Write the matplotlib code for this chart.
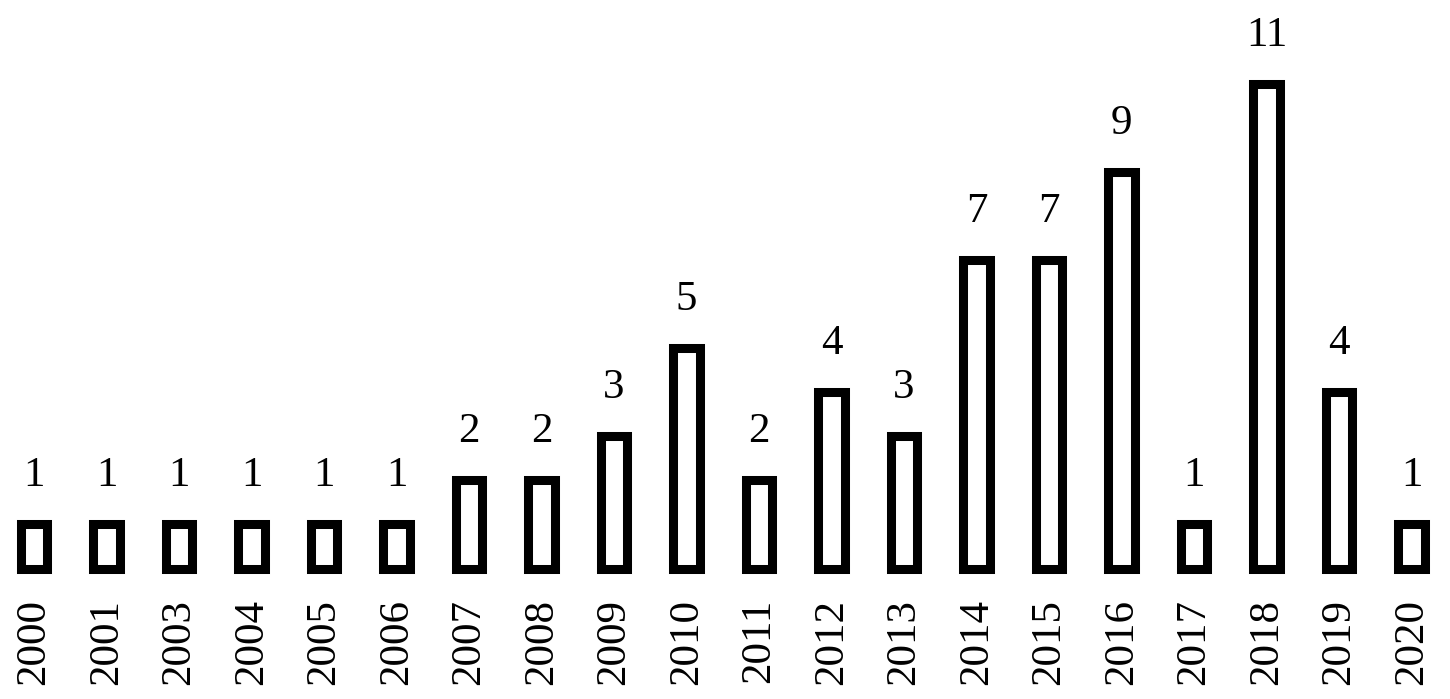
import matplotlib
matplotlib.use("Agg")
import matplotlib.pyplot as plt

years = ["2000", "2001", "2003", "2004", "2005", "2006", "2007", "2008", "2009", "2010",
         "2011", "2012", "2013", "2014", "2015", "2016", "2017", "2018", "2019", "2020"]
counts = [1, 1, 1, 1, 1, 1, 2, 2, 3, 5, 2, 4, 3, 7, 7, 9, 1, 11, 4, 1]

plt.rcParams['font.family'] = ['Liberation Serif', 'DejaVu Serif']

fig = plt.figure(figsize=(14.5, 6.99), dpi=100)
ax = fig.add_axes([0, 130.5 / 699, 1, 568.5 / 699])

x = list(range(len(years)))
bars = ax.bar(x, counts, width=0.37, facecolor='white', edgecolor='black',
              linewidth=6.5, clip_on=False)
for b in bars:
    b.set_joinstyle('miter')

for xi, v in zip(x, counts):
    ax.annotate(str(v), (xi, v), xytext=(0, 21), textcoords='offset points',
                ha='center', va='bottom', fontsize=31)

ax.set_xlim(-0.469, 19.531)
ax.set_ylim(0, 12.92)
ax.set_xticks(x)
ax.set_xticklabels(years, rotation=90, fontsize=31)
ax.tick_params(axis='x', length=0, pad=22)
ax.set_yticks([])
for s in ax.spines.values():
    s.set_visible(False)

fig.savefig("out.png", dpi=100)
